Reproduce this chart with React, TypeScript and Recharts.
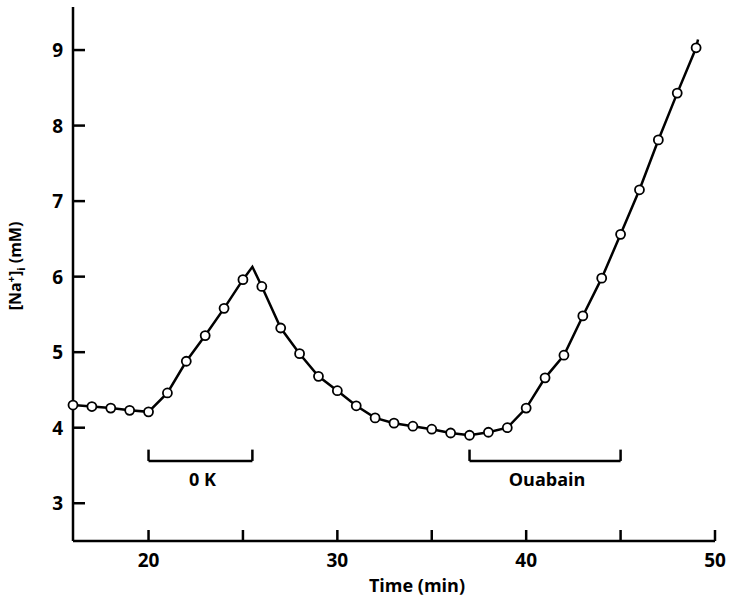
import React from "react";
import { LineChart, Line, XAxis, YAxis, ReferenceLine } from "recharts";

// time (min) and intracellular Na+ (mM)
const times = [
  16, 17, 18, 19, 20, 21, 22, 23, 24, 25, 25.5, 26, 27, 28, 29, 30, 31, 32, 33,
  34, 35, 36, 37, 38, 39, 40, 41, 42, 43, 44, 45, 46, 47, 48, 49, 49.1,
];
const naValues = [
  4.3, 4.28, 4.26, 4.23, 4.21, 4.46, 4.88, 5.22, 5.58, 5.96, 6.13, 5.87, 5.32,
  4.98, 4.68, 4.49, 4.29, 4.13, 4.06, 4.02, 3.98, 3.93, 3.9, 3.94, 4.0, 4.26,
  4.66, 4.96, 5.48, 5.98, 6.56, 7.15, 7.81, 8.43, 9.03, 9.14,
];
// points on the line that have no circle drawn
const noMarker = [25.5, 49.1];

const xTicks = [20, 25, 30, 35, 40, 45, 50];
const yTicks = [3, 4, 5, 6, 7, 8, 9];

const brackets = [
  { label: "0 K", from: 20, to: 25.5 },
  { label: "Ouabain", from: 37, to: 45 },
];
const bracketY = 3.56;
const bracketTick = 0.15;

const data = times.map((t, i) => ({ t, na: naValues[i] }));

const font = "'Open Sans', Lato, sans-serif";

const XTick = (props: any) => {
  const { x, y, payload } = props;
  return (
    <g>
      <line x1={x} x2={x} y1={y} y2={y - 11} stroke="#000" strokeWidth={2.5} />
      {payload.value % 10 === 0 && (
        <text x={x} y={y + 26} textAnchor="middle" fontSize={19} fontWeight={700} fontFamily={font} fill="#000">
          {payload.value}
        </text>
      )}
    </g>
  );
};

const YTick = (props: any) => {
  const { x, y, payload } = props;
  return (
    <g>
      <line x1={x} x2={x + 12} y1={y} y2={y} stroke="#000" strokeWidth={2.5} />
      <text x={x - 10} y={y + 7} textAnchor="end" fontSize={19} fontWeight={700} fontFamily={font} fill="#000">
        {payload.value}
      </text>
    </g>
  );
};

const MarkerDot = (props: any) => {
  const { cx, cy, payload, index } = props;
  if (noMarker.includes(payload.t)) return <g key={index} />;
  return <circle key={index} cx={cx} cy={cy} r={4.5} fill="#fff" stroke="#000" strokeWidth={1.8} />;
};

const App = () => {
  return (
    <div style={{ position: "absolute", left: 0, top: 0, background: "#fff" }}>
      <LineChart
        width={729}
        height={599}
        data={data}
        margin={{ top: 7, right: 14, bottom: 28, left: 23 }}
      >
        <XAxis
          dataKey="t"
          type="number"
          domain={[16, 50]}
          ticks={xTicks}
          height={30}
          tickSize={0}
          tickMargin={0}
          tick={<XTick />}
          axisLine={{ stroke: "#000", strokeWidth: 2.5 }}
          label={{
            content: () => (
              <text x={417} y={592} textAnchor="middle" fontSize={18} fontWeight={700} fontFamily={font} fill="#000">
                Time (min)
              </text>
            ),
          }}
        />
        <YAxis
          type="number"
          domain={[2.5, 9.57]}
          ticks={yTicks}
          width={50}
          tickSize={0}
          tickMargin={0}
          tick={<YTick />}
          axisLine={{ stroke: "#000", strokeWidth: 2.5 }}
          label={{
            content: () => (
              <text
                x={0}
                y={0}
                transform="translate(21, 266) rotate(-90)"
                textAnchor="middle"
                fontSize={16}
                fontWeight={700}
                fontFamily={font}
                fill="#000"
              >
                [Na
                <tspan dy={-6} fontSize={11}>+</tspan>
                <tspan dy={6}>]</tspan>
                <tspan dy={4} fontSize={11}>i</tspan>
                <tspan dy={-4}> (mM)</tspan>
              </text>
            ),
          }}
        />
        {brackets.map((b) => (
          <ReferenceLine
            key={b.label}
            segment={[
              { x: b.from, y: bracketY },
              { x: b.to, y: bracketY },
            ]}
            stroke="#000"
            strokeWidth={2.5}
            label={{
              content: (p: any) => (
                <text
                  x={p.viewBox.x + p.viewBox.width / 2 + 2}
                  y={p.viewBox.y + 25}
                  textAnchor="middle"
                  fontSize={18}
                  fontWeight={700}
                  fontFamily={font}
                  fill="#000"
                >
                  {b.label}
                </text>
              ),
            }}
          />
        ))}
        {brackets.flatMap((b) =>
          [b.from, b.to].map((x) => (
            <ReferenceLine
              key={b.label + x}
              segment={[
                { x, y: bracketY },
                { x, y: bracketY + bracketTick },
              ]}
              stroke="#000"
              strokeWidth={2.5}
            />
          ))
        )}
        <Line
          dataKey="na"
          type="linear"
          stroke="#000"
          strokeWidth={2.5}
          dot={MarkerDot}
          activeDot={false}
          isAnimationActive={false}
        />
      </LineChart>
    </div>
  );
};

export default App;
